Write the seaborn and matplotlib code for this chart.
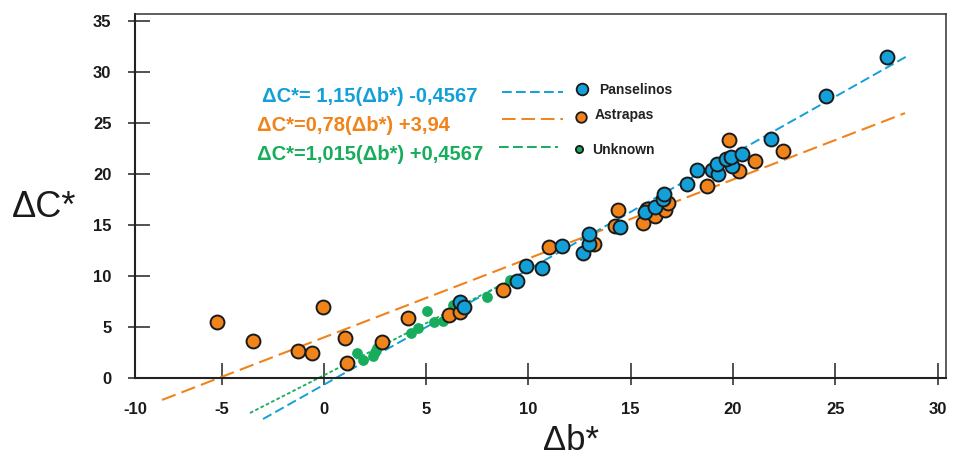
import numpy as np
import pandas as pd
import matplotlib
matplotlib.use("Agg")
import matplotlib.pyplot as plt
import seaborn as sns

# ---------------- data ----------------
pans_x = [6.65, 6.86, 9.42, 9.88, 10.66, 11.62, 12.65, 12.97, 12.97, 14.47,
          15.70, 16.19, 16.56, 16.61, 17.75, 18.25, 18.96, 19.28, 19.20, 19.94,
          19.64, 19.90, 20.43, 21.84, 24.55, 27.53]
pans_y = [7.41, 6.98, 9.50, 10.97, 10.77, 12.93, 12.27, 13.10, 14.07, 14.82,
          16.29, 16.78, 17.53, 17.99, 18.97, 20.37, 20.37, 19.95, 20.96, 20.79,
          21.42, 21.67, 21.91, 23.46, 27.62, 31.44]

astr_x = [-5.22, -3.46, -1.29, -0.60, -0.03, 1.03, 1.11, 2.82, 4.12, 6.13,
          6.65, 8.77, 11.00, 13.22, 14.23, 14.39, 15.58, 15.79, 16.19, 16.67,
          16.84, 18.74, 19.82, 20.31, 21.08, 22.43]
astr_y = [5.51, 3.63, 2.67, 2.42, 6.92, 3.95, 1.50, 3.56, 5.85, 6.17,
          6.43, 8.62, 12.83, 13.10, 14.89, 16.45, 15.21, 16.55, 15.90, 16.45,
          17.17, 18.80, 23.31, 20.30, 21.28, 22.26]

unk_x = [1.60, 1.92, 2.40, 2.58, 2.49, 4.24, 4.61, 5.05, 5.39, 5.80, 6.29, 7.96, 9.10]
unk_y = [2.48, 1.81, 2.13, 2.94, 2.58, 4.44, 4.87, 6.56, 5.46, 5.61, 7.15, 7.96, 9.60]

# fitted lines (end points as drawn)
pans_line_x = [-2.98, 28.61]
pans_line_y = [-4.02, 31.64]
astr_line_x = [-7.92, 28.41]
astr_line_y = [-2.15, 25.95]
unk_line_x = [-3.62, 9.24]
unk_line_y = [-3.43, 9.70]

groups = ["Panselinos", "Astrapas", "Unknown"]
equations = ["\u0394C*= 1,15(\u0394b*) -0,4567",
             "\u0394C*=0,78(\u0394b*) +3,94",
             "\u0394C*=1,015(\u0394b*) +0,4567"]
x_ticks = [-5, 0, 5, 10, 15, 20, 25, 30]
y_ticks = [0, 5, 10, 15, 20, 25, 30, 35]

BLUE = "#139FD8"
ORANGE = "#F0831A"
GREEN = "#17AD5C"
EDGE = "#1a1a1a"

# ---------------- style ----------------
sns.set_style("white")
plt.rcParams["font.family"] = ["Liberation Sans", "DejaVu Sans"]

fig = plt.figure(figsize=(9.54, 4.57), dpi=100)
ax = fig.add_axes([135 / 954, 1 - 378 / 457, 810.7 / 954, 363.7 / 457])

xmin, xmax = -9.24, 30.4
ax.set_xlim(xmin, xmax)
ax.set_ylim(0, 35.63)

# fit lines
ax.plot(astr_line_x, astr_line_y, color=ORANGE, lw=1.5, dashes=(7, 3), clip_on=False, zorder=2)
ax.plot(pans_line_x, pans_line_y, color=BLUE, lw=1.4, dashes=(5, 2.2), clip_on=False, zorder=2)
ax.plot(unk_line_x, unk_line_y, color=GREEN, lw=1.3, dashes=(2, 1.3), clip_on=False, zorder=2)

# points
df_u = pd.DataFrame({"x": unk_x, "y": unk_y})
df_a = pd.DataFrame({"x": astr_x, "y": astr_y})
df_p = pd.DataFrame({"x": pans_x, "y": pans_y})
sns.scatterplot(data=df_u, x="x", y="y", color=GREEN, s=60, linewidth=0, ax=ax, zorder=3, legend=False)
sns.scatterplot(data=df_a, x="x", y="y", color=ORANGE, s=100, edgecolor=EDGE, linewidth=1.4,
                ax=ax, zorder=4, legend=False)
sns.scatterplot(data=df_p, x="x", y="y", color=BLUE, s=100, edgecolor=EDGE, linewidth=1.4,
                ax=ax, zorder=5, legend=False)

ax.set_xlabel("")
ax.set_ylabel("")

# ticks
ax.set_xticks([xmin] + x_ticks)
ax.set_xticklabels(["-10"] + [str(t) for t in x_ticks])
ax.set_yticks(y_ticks)
ax.set_yticklabels([str(t) for t in y_ticks])
ax.xaxis.remove_overlapping_locs = False
ax.yaxis.remove_overlapping_locs = False
ax.set_xticks(x_ticks, minor=True)
ax.set_yticks(y_ticks, minor=True)
ax.tick_params(which="major", direction="in", length=10.5, width=1.1, color="#222222",
               labelsize=12, bottom=True, left=True, top=False, right=False)
ax.tick_params(which="minor", direction="out", length=5.2, width=1.1, color="#222222",
               bottom=True, left=True, top=False, right=False)
ax.tick_params(axis="x", which="major", pad=17)
ax.tick_params(axis="y", which="major", pad=17)
ax.xaxis.get_major_ticks()[0].tick1line.set_visible(False)
for lab in ax.get_xticklabels() + ax.get_yticklabels():
    lab.set_fontweight("bold")
    lab.set_color("#1a1a1a")

for side in ["left", "bottom"]:
    ax.spines[side].set_linewidth(1.5)
    ax.spines[side].set_color("#222222")
for side in ["top", "right"]:
    ax.spines[side].set_linewidth(1.1)
    ax.spines[side].set_color("#333333")
    ax.spines[side].set_visible(True)

# axis titles
fig.text(44.5 / 954, 1 - 217 / 457, "\u0394C*", fontsize=26, ha="center", va="baseline", color="#1a1a1a")
fig.text(571 / 954, 7 / 457, "\u0394b*", fontsize=25, ha="center", va="baseline", color="#1a1a1a")

# custom legend with equations
colors = [BLUE, ORANGE, GREEN]
eq_x = [0.1567, 0.1505, 0.1505]
eq_y = [0.7597, 0.6796, 0.5998]
line_x = [(0.4527, 0.528), (0.4527, 0.528), (0.449, 0.522)]
line_y = [0.786, 0.712, 0.635]
line_dash = [(5, 2.2), (7, 3), (5, 2.2)]
mk_x = [0.5514, 0.5501, 0.5477]
mk_y = [0.7946, 0.7176, 0.6296]
mk_size = [8.4, 7.6, 5.2]
mk_edge = [EDGE, EDGE, EDGE]
lab_x = [0.5724, 0.5666, 0.5634]
lab_y = [0.7809, 0.7113, 0.6159]
for i in range(3):
    ax.text(eq_x[i], eq_y[i], equations[i], transform=ax.transAxes, fontsize=14.5,
            fontweight="bold", color=colors[i], ha="left", va="baseline")
    ax.plot(line_x[i], [line_y[i], line_y[i]], transform=ax.transAxes, color=colors[i],
            lw=1.4, dashes=line_dash[i], clip_on=False)
    ax.plot([mk_x[i]], [mk_y[i]], transform=ax.transAxes, marker="o", ms=mk_size[i],
            mfc=colors[i], mec=mk_edge[i], mew=1.3, ls="none", clip_on=False)
    ax.text(lab_x[i], lab_y[i], groups[i], transform=ax.transAxes, fontsize=10,
            fontweight="bold", color="#222222", ha="left", va="baseline")

fig.savefig("out.png", dpi=100)
